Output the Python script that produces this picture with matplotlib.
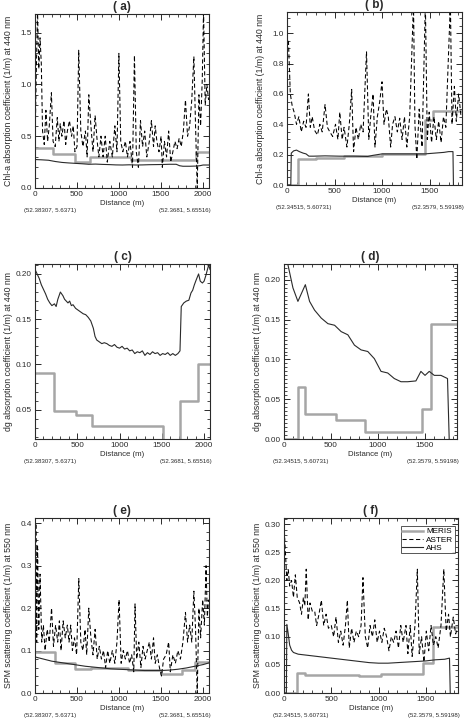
import matplotlib
matplotlib.use("Agg")
import matplotlib.pyplot as plt
from matplotlib.ticker import MultipleLocator, FormatStrFormatter

plt.rcParams['font.family'] = ['Liberation Sans', 'DejaVu Sans']

W, H = 471, 725

# ---------------- DATA ----------------
# panel (a) Chl-a, transect 1
meris_a_d = [0, 217, 473, 651, 1144, 1913, 2070]
meris_a_v = [0.387, 0.332, 0.25, 0.297, 0.274, 0.35, 0.35]
ahs_a_d = [0, 80, 160, 240, 320, 400, 480, 560, 640, 720, 800, 880, 960, 1040, 1120,
           1200, 1280, 1360, 1440, 1520, 1600, 1680, 1720, 1760, 1840, 1920, 1960, 2000, 2070]
ahs_a_v = [0.275, 0.272, 0.268, 0.256, 0.247, 0.242, 0.238, 0.234, 0.229, 0.231, 0.228,
           0.226, 0.223, 0.222, 0.224, 0.222, 0.223, 0.225, 0.226, 0.227, 0.229, 0.229,
           0.215, 0.21, 0.21, 0.212, 0.215, 0.222, 0.222]
aster_a_d = [0, 15, 30, 45, 60, 75, 90, 110, 130, 150, 170, 195, 215, 240, 265, 285, 300,
             320, 345, 365, 385, 410, 435, 455, 475, 500, 520, 545, 570, 600, 620, 640, 665,
             690, 715, 740, 760, 785, 810, 835, 860, 890, 920, 950, 975, 998, 1020, 1045,
             1075, 1100, 1130, 1160, 1183, 1205, 1230, 1255, 1280, 1305, 1330, 1360, 1385,
             1410, 1430, 1450, 1475, 1500, 1515, 1540, 1565, 1590, 1615, 1640, 1665, 1690,
             1715, 1740, 1765, 1790, 1815, 1840, 1865, 1890, 1910, 1930, 1950, 1970, 1990,
             2005, 2025, 2045, 2065]
aster_a_v = [0.40, 1.10, 1.72, 1.15, 1.45, 1.20, 0.55, 0.42, 0.75, 0.45, 0.60, 0.92, 0.45,
             0.40, 0.68, 0.45, 0.62, 0.50, 0.65, 0.42, 0.55, 0.65, 0.50, 0.60, 0.35, 0.40,
             1.33, 0.55, 0.40, 0.55, 0.30, 0.90, 0.60, 0.35, 0.70, 0.45, 0.30, 0.50, 0.30,
             0.50, 0.25, 0.45, 0.30, 0.60, 0.35, 1.30, 0.45, 0.35, 0.45, 0.30, 0.45, 0.20,
             1.28, 0.35, 0.20, 0.65, 0.40, 0.55, 0.30, 0.45, 0.65, 0.40, 0.60, 0.45, 0.35,
             0.50, 0.20, 0.45, 0.30, 0.55, 0.25, 0.35, 0.45, 0.38, 0.48, 0.40, 0.55, 0.85,
             0.50, 0.60, 0.85, 1.27, 0.60, 0.00, 0.90, 0.60, 1.05, 1.72, 0.80, 1.00, 0.85]

# panel (b) Chl-a, transect 2
meris_b_d = [0, 115, 300, 600, 1000, 1450, 1530, 1840]
meris_b_v = [0.0, 0.172, 0.18, 0.19, 0.205, 0.43, 0.49, 0.49]
ahs_b_d = [0, 40, 45, 70, 100, 130, 170, 200, 230, 280, 400, 550, 700, 850, 900, 1000,
           1150, 1300, 1450, 1550, 1650, 1700, 1745, 1750]
ahs_b_v = [0.0, 0.0, 0.21, 0.225, 0.23, 0.22, 0.21, 0.205, 0.19, 0.19, 0.192, 0.19, 0.19,
           0.188, 0.195, 0.205, 0.205, 0.205, 0.205, 0.21, 0.215, 0.22, 0.22, 0.0]
aster_b_d = [15, 35, 55, 75, 100, 125, 150, 175, 200, 225, 245, 265, 290, 320, 345, 370,
             400, 425, 450, 480, 510, 535, 555, 580, 600, 630, 655, 680, 700, 725, 750,
             775, 800, 836, 860, 880, 905, 925, 950, 975, 999, 1020, 1045, 1065, 1090,
             1110, 1135, 1160, 1185, 1210, 1235, 1260, 1290, 1330, 1345, 1365, 1390, 1420,
             1455, 1475, 1495, 1520, 1545, 1570, 1595, 1620, 1645, 1670, 1718, 1735, 1760,
             1780, 1805, 1830]
aster_b_v = [0.95, 0.60, 0.52, 0.48, 0.40, 0.45, 0.35, 0.42, 0.38, 0.60, 0.38, 0.45, 0.36,
             0.33, 0.40, 0.35, 0.53, 0.38, 0.35, 0.32, 0.40, 0.30, 0.48, 0.30, 0.38, 0.25,
             0.40, 0.63, 0.22, 0.38, 0.30, 0.40, 0.35, 0.88, 0.30, 0.45, 0.60, 0.25, 0.45,
             0.55, 0.68, 0.40, 0.50, 0.45, 0.25, 0.40, 0.45, 0.35, 0.44, 0.30, 0.45, 0.25,
             0.45, 1.20, 0.40, 0.17, 0.50, 0.25, 1.20, 0.30, 0.48, 0.28, 0.45, 0.30, 0.42,
             0.28, 0.45, 0.38, 1.20, 0.40, 0.65, 0.42, 0.60, 0.45]

# panel (c) dg, transect 1
meris_c_d = [0, 220, 485, 670, 1510, 1720, 1925, 2070]
meris_c_v = [0.091, 0.048, 0.044, 0.032, 0.0, 0.06, 0.1, 0.1]
ahs_c_d = [0, 25, 50, 75, 100, 125, 150, 175, 200, 230, 250, 270, 300, 330, 350, 370, 390,
           410, 430, 450, 480, 510, 540, 570, 600, 630, 660, 690, 710, 730, 760, 790, 820,
           850, 880, 910, 940, 970, 1000, 1030, 1060, 1090, 1120, 1150, 1180, 1210, 1240,
           1270, 1300, 1330, 1360, 1390, 1420, 1450, 1480, 1510, 1540, 1570, 1600, 1630,
           1660, 1690, 1715, 1730, 1760, 1790, 1820, 1845, 1865, 1885, 1905, 1935, 1955,
           1980, 2000, 2020, 2040, 2055, 2070]
ahs_c_v = [0.205, 0.200, 0.195, 0.188, 0.183, 0.178, 0.172, 0.168, 0.165, 0.167, 0.164,
           0.172, 0.180, 0.176, 0.172, 0.170, 0.168, 0.170, 0.165, 0.166, 0.162, 0.160,
           0.158, 0.156, 0.155, 0.152, 0.148, 0.140, 0.131, 0.127, 0.125, 0.123, 0.124,
           0.123, 0.121, 0.120, 0.122, 0.119, 0.118, 0.120, 0.117, 0.118, 0.115, 0.116,
           0.112, 0.114, 0.113, 0.115, 0.110, 0.113, 0.111, 0.114, 0.112, 0.113, 0.110,
           0.112, 0.111, 0.113, 0.110, 0.112, 0.110, 0.112, 0.115, 0.164, 0.168, 0.170,
           0.171, 0.179, 0.182, 0.188, 0.193, 0.200, 0.192, 0.190, 0.192, 0.198, 0.205,
           0.210, 0.205]

# panel (d) dg, transect 2
meris_d_d = [0, 131, 148, 219, 555, 863, 1463, 1562, 1840]
meris_d_v = [0.0, 0.0, 0.066, 0.032, 0.024, 0.009, 0.038, 0.145, 0.145]
ahs_d_d = [0, 42, 95, 148, 227, 272, 325, 396, 467, 538, 608, 679, 749, 820, 891, 961,
           1032, 1103, 1173, 1244, 1315, 1403, 1456, 1500, 1545, 1598, 1669, 1739, 1757]
ahs_d_v = [0.225, 0.219, 0.19, 0.173, 0.194, 0.173, 0.162, 0.152, 0.145, 0.143, 0.135,
           0.131, 0.118, 0.112, 0.110, 0.101, 0.085, 0.083, 0.076, 0.072, 0.072, 0.073,
           0.085, 0.08, 0.085, 0.08, 0.08, 0.076, 0.0]

# panel (e) SPM, transect 1
meris_e_d = [0, 233, 481, 667, 1101, 1495, 1751, 1909, 2070]
meris_e_v = [0.097, 0.071, 0.057, 0.060, 0.054, 0.045, 0.054, 0.074, 0.074]
ahs_e_d = [0, 100, 200, 300, 400, 500, 600, 700, 800, 900, 1000, 1100, 1200, 1300, 1400,
           1500, 1600, 1700, 1800, 1900, 2000, 2070]
ahs_e_v = [0.085, 0.080, 0.075, 0.072, 0.069, 0.066, 0.063, 0.061, 0.059, 0.057, 0.056,
           0.055, 0.054, 0.053, 0.053, 0.053, 0.054, 0.056, 0.059, 0.063, 0.067, 0.071]
aster_e_d = [0, 10, 20, 30, 45, 60, 80, 100, 120, 145, 170, 197, 220, 245, 270, 290, 310,
             335, 360, 385, 405, 425, 445, 470, 495, 521, 545, 570, 595, 615, 640, 665,
             690, 715, 740, 765, 790, 815, 840, 865, 890, 920, 950, 975, 1000, 1025, 1050,
             1075, 1100, 1125, 1150, 1175, 1190, 1210, 1235, 1260, 1285, 1310, 1335, 1360,
             1385, 1410, 1430, 1455, 1480, 1505, 1530, 1560, 1590, 1610, 1640, 1670, 1700,
             1730, 1760, 1790, 1815, 1840, 1865, 1890, 1910, 1930, 1950, 1970, 1995, 2015,
             2035, 2050, 2065]
aster_e_v = [0.10, 0.40, 0.12, 0.35, 0.15, 0.28, 0.12, 0.16, 0.10, 0.15, 0.12, 0.20, 0.11,
             0.16, 0.12, 0.17, 0.10, 0.17, 0.13, 0.16, 0.12, 0.16, 0.10, 0.13, 0.09, 0.27,
             0.12, 0.10, 0.15, 0.09, 0.20, 0.13, 0.09, 0.15, 0.08, 0.11, 0.08, 0.10, 0.06,
             0.10, 0.07, 0.10, 0.07, 0.12, 0.22, 0.07, 0.10, 0.08, 0.10, 0.07, 0.09, 0.05,
             0.21, 0.08, 0.12, 0.06, 0.11, 0.08, 0.10, 0.12, 0.08, 0.13, 0.07, 0.09, 0.06,
             0.04, 0.08, 0.09, 0.12, 0.05, 0.09, 0.07, 0.10, 0.08, 0.12, 0.19, 0.12, 0.16,
             0.12, 0.24, 0.15, 0.00, 0.20, 0.13, 0.22, 0.16, 0.30, 0.18, 0.22]

# panel (f) SPM, transect 2
meris_f_d = [0, 135, 223, 791, 1021, 1465, 1571, 1840]
meris_f_v = [0.0, 0.036, 0.0325, 0.030, 0.034, 0.054, 0.117, 0.117]
ahs_f_d = [0, 25, 30, 45, 60, 80, 100, 150, 200, 300, 400, 500, 600, 700, 800, 900, 1000,
           1100, 1200, 1300, 1400, 1500, 1600, 1700, 1750, 1758]
ahs_f_v = [0.0, 0.0, 0.122, 0.105, 0.085, 0.076, 0.072, 0.069, 0.068, 0.066, 0.064, 0.062,
           0.060, 0.058, 0.056, 0.054, 0.053, 0.053, 0.054, 0.055, 0.056, 0.057, 0.059,
           0.060, 0.062, 0.0]
aster_f_d = [0, 15, 30, 45, 60, 80, 100, 120, 140, 165, 185, 205, 220, 235, 255, 275, 300,
             325, 345, 370, 395, 420, 445, 470, 500, 525, 550, 575, 600, 625, 650, 670,
             690, 715, 740, 765, 790, 815, 835, 860, 885, 910, 935, 960, 985, 1010, 1035,
             1060, 1085, 1110, 1135, 1160, 1185, 1210, 1235, 1260, 1290, 1310, 1335, 1355,
             1385, 1410, 1430, 1455, 1480, 1505, 1530, 1555, 1580, 1605, 1630, 1660, 1690,
             1715, 1740, 1760, 1790, 1815, 1835]
aster_f_v = [0.30, 0.25, 0.20, 0.22, 0.19, 0.20, 0.17, 0.21, 0.17, 0.16, 0.14, 0.17, 0.155,
             0.22, 0.13, 0.16, 0.145, 0.145, 0.12, 0.14, 0.165, 0.12, 0.14, 0.115, 0.12,
             0.10, 0.135, 0.09, 0.11, 0.085, 0.12, 0.165, 0.08, 0.115, 0.09, 0.11, 0.10,
             0.12, 0.205, 0.10, 0.08, 0.12, 0.10, 0.13, 0.09, 0.11, 0.09, 0.115, 0.10,
             0.075, 0.10, 0.09, 0.11, 0.08, 0.12, 0.09, 0.12, 0.07, 0.12, 0.065, 0.12,
             0.22, 0.07, 0.10, 0.055, 0.11, 0.075, 0.12, 0.085, 0.10, 0.08, 0.12, 0.22,
             0.11, 0.14, 0.10, 0.135, 0.105, 0.115]

coords_1 = ("(52.38307, 5.6371)", "(52.3681, 5.65516)")
coords_2 = ("(52.34515, 5.60731)", "(52.3579, 5.59198)")

lab_chl = "Chl-a absorption coefficient (1/m) at 440 nm"
lab_dg = "dg absorption coefficient (1/m) at 440 nm"
lab_spm = "SPM scattering coefficient (1/m) at 550 nm"

GRAY = "#a6a6a6"
DARK = "#2a2a2a"

fig = plt.figure(figsize=(W / 100, H / 100), dpi=100)


def make_axes(box, title, xmax, ylim, ymaj, ymin, yfmt, ylabel, coords):
    l, t, r, b = box
    ax = fig.add_axes([l / W, 1 - b / H, (r - l) / W, (b - t) / H])
    ax.set_xlim(0, xmax)
    ax.set_ylim(*ylim)
    ax.xaxis.set_major_locator(MultipleLocator(500))
    ax.xaxis.set_minor_locator(MultipleLocator(100))
    ax.yaxis.set_major_locator(MultipleLocator(ymaj))
    ax.yaxis.set_minor_locator(MultipleLocator(ymin))
    ax.yaxis.set_major_formatter(FormatStrFormatter(yfmt))
    ax.tick_params(which='both', direction='in', top=True, right=True,
                   labelsize=5.9, pad=2.3, color=DARK, labelcolor=DARK)
    ax.tick_params(which='major', length=4.3, width=0.7)
    ax.tick_params(which='minor', length=2.2, width=0.6)
    for s in ax.spines.values():
        s.set_linewidth(0.8)
        s.set_color(DARK)
    ax.set_xlabel("Distance (m)", fontsize=5.6, color=DARK, labelpad=1)
    ax.set_ylabel(ylabel, fontsize=6.3, color=DARK)
    ax.yaxis.set_label_coords(-22 / (r - l), 0.5)
    ax.set_title(title, fontsize=8.5, fontweight='bold', pad=3, color=DARK)
    ax.annotate(coords[0], xy=(0, 0), xycoords='axes fraction', xytext=(-8, -16.5),
                textcoords='offset points', ha='left', va='center', fontsize=4.4,
                color=DARK)
    ax.annotate(coords[1], xy=(1, 0), xycoords='axes fraction', xytext=(1, -16.5),
                textcoords='offset points', ha='right', va='center', fontsize=4.4,
                color=DARK)
    return ax


def draw(ax, meris, aster, ahs):
    ax.step(meris[0], meris[1], where='post', color=GRAY, lw=1.8, label="MERIS")
    if aster is not None:
        ax.plot(aster[0], aster[1], color="black", lw=0.75, dashes=(4, 2.5), label="ASTER")
    else:
        ax.plot([], [], color="black", lw=0.75, dashes=(4, 2.5), label="ASTER")
    ax.plot(ahs[0], ahs[1], color=DARK, lw=0.8, label="AHS")


# ---------------- PANELS ----------------
ax = make_axes((35, 14, 209, 188), "( a)", 2070, (0, 1.68), 0.5, 0.1, "%.1f", lab_chl, coords_1)
draw(ax, (meris_a_d, meris_a_v), (aster_a_d, aster_a_v), (ahs_a_d, ahs_a_v))

ax = make_axes((287, 12, 462, 185), "( b)", 1840, (0, 1.14), 0.2, 0.05, "%.1f", lab_chl, coords_2)
draw(ax, (meris_b_d, meris_b_v), (aster_b_d, aster_b_v), (ahs_b_d, ahs_b_v))

ax = make_axes((35, 264, 210, 439), "( c)", 2070, (0.0176, 0.211), 0.05, 0.01, "%.2f", lab_dg, coords_1)
draw(ax, (meris_c_d, meris_c_v), None, (ahs_c_d, ahs_c_v))

ax = make_axes((284, 264, 457, 439), "( d)", 1840, (0, 0.22), 0.05, 0.005, "%.2f", lab_dg, coords_2)
draw(ax, (meris_d_d, meris_d_v), None, (ahs_d_d, ahs_d_v))

ax = make_axes((35, 518, 209, 693), "( e)", 2070, (0, 0.4125), 0.1, 0.02, "%.1f", lab_spm, coords_1)
draw(ax, (meris_e_d, meris_e_v), (aster_e_d, aster_e_v), (ahs_e_d, ahs_e_v))

ax = make_axes((284, 518, 458, 693), "( f)", 1840, (0, 0.311), 0.05, 0.01, "%.2f", lab_spm, coords_2)
draw(ax, (meris_f_d, meris_f_v), (aster_f_d, aster_f_v), (ahs_f_d, ahs_f_v))
leg = ax.legend(loc='upper right', bbox_to_anchor=(1 - 3 / 174, 1 - 8 / 175), fontsize=5.9,
                frameon=True, fancybox=False, borderaxespad=0, handlelength=2.5,
                handletextpad=0.4, borderpad=0.2, labelspacing=0.05)
leg.get_frame().set_edgecolor(DARK)
leg.get_frame().set_linewidth(0.7)

fig.savefig("out.png", dpi=100)
